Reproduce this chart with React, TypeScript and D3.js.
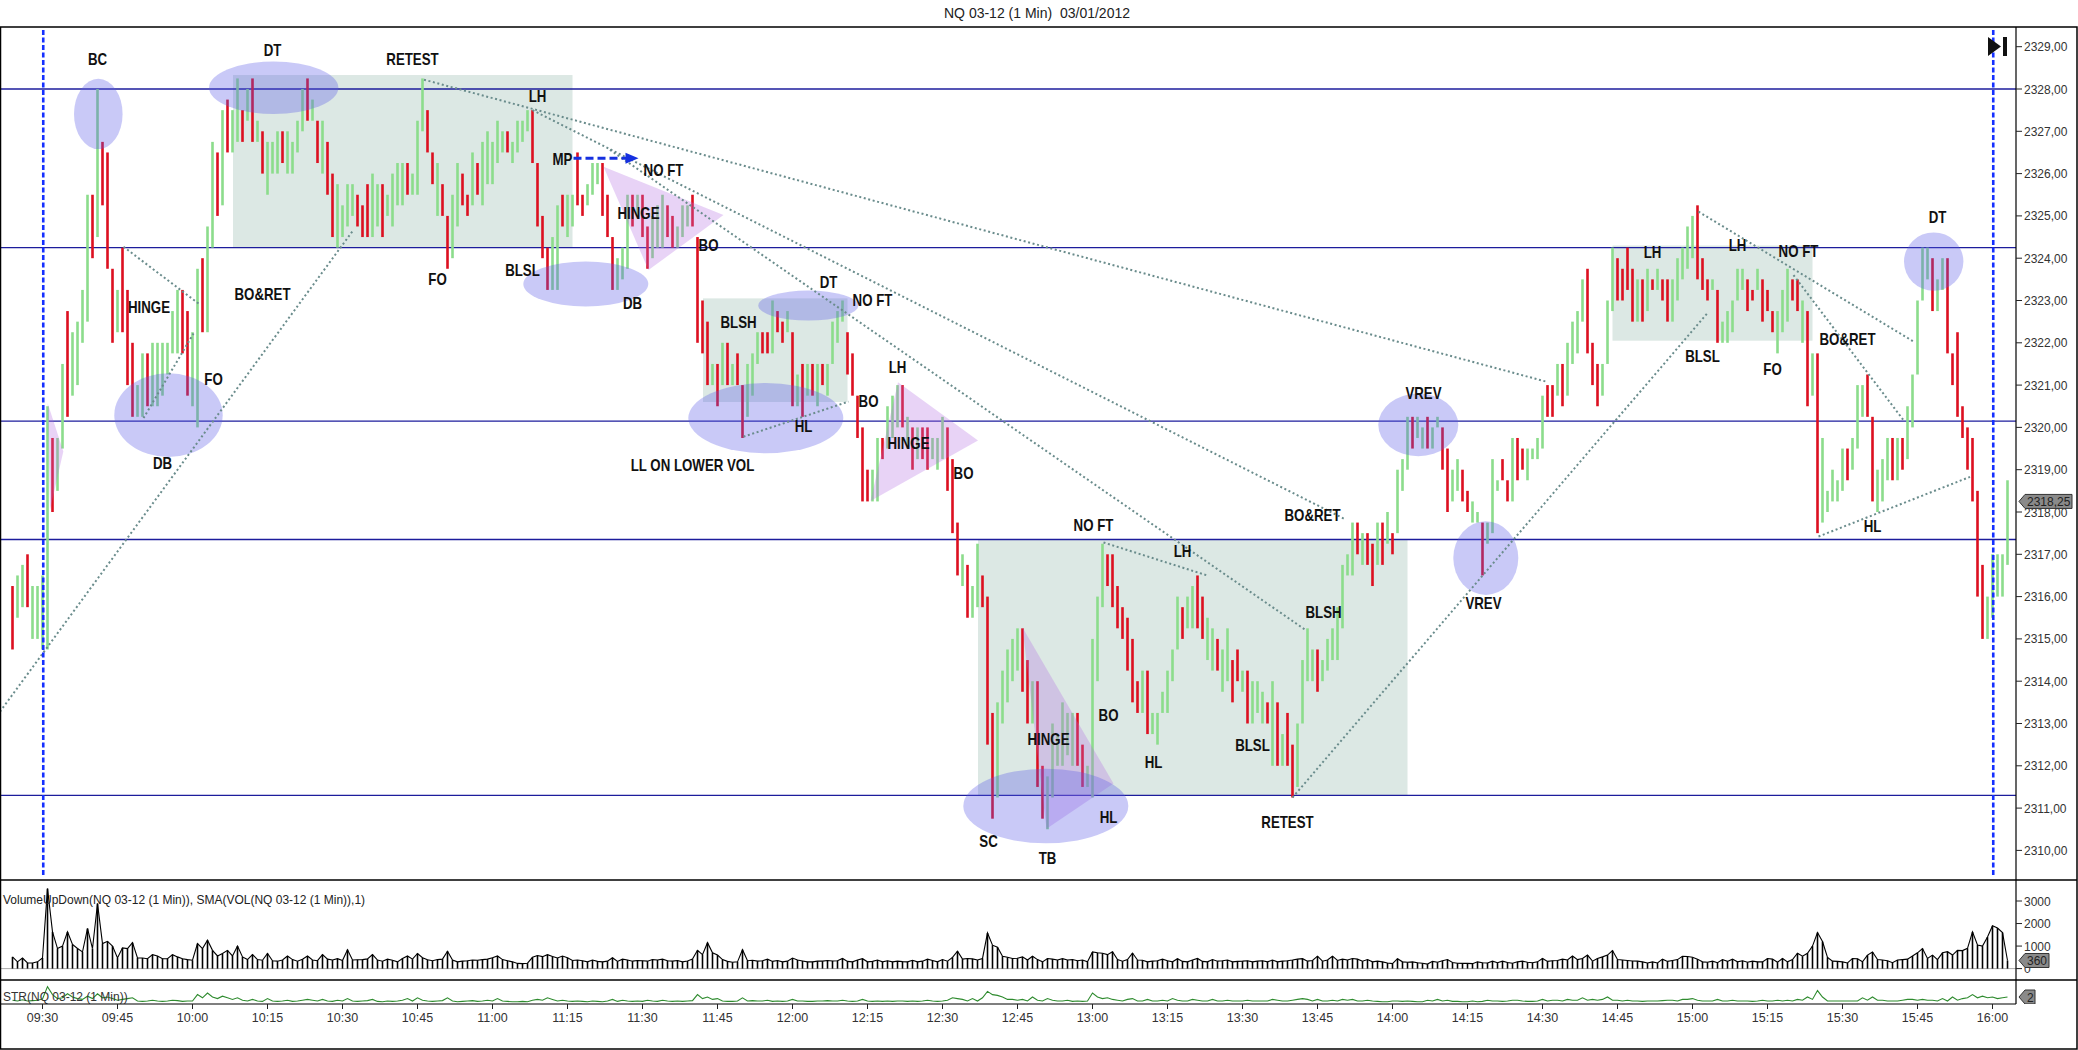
import React from "react";
import * as d3 from "d3";

// ---------- data ----------
const chartTitle = "NQ 03-12 (1 Min)  03/01/2012";
const firstMinute = -6; // first bar sits six minutes before the 09:30 open

const barHigh = [
  2316.25,2316.5,2316.75,2317,2316.25,2316.25,2316.5,2320.5,2319.75,2319.75,
  2321.5,2322.75,2322.25,2322.5,2323.25,2325.5,2325.5,2328,2326.75,2326.5,
  2323.75,2323.25,2324.25,2323.25,2322,2321,2321.75,2321.75,2322,2322,
  2322,2322,2322.75,2323.25,2323.25,2322.75,2322.25,2323.75,2324,2324.75,
  2326.75,2326.5,2327.5,2327.75,2327.5,2328.25,2327.5,2328,2328.25,2327.25,
  2327,2326.75,2326.75,2327,2327,2327,2326.75,2327.25,2328,2328.25,
  2327.75,2327.25,2327.25,2326.75,2326,2325.75,2325.25,2325.75,2325.75,2325.5,
  2325.25,2325.75,2326,2325.75,2325.75,2325.5,2326,2326.25,2326.25,2326.25,
  2326,2327.25,2328.25,2327.5,2326.5,2326.25,2325.75,2325,2325.5,2326.25,
  2326,2325.5,2326.5,2326.25,2326.75,2327,2326.75,2327.25,2327,2327,
  2326.75,2327.25,2327.25,2327.5,2327.5,2326.25,2325,2324.25,2324.5,2325.25,
  2325.5,2325.5,2325.5,2326.5,2325.5,2325.75,2326.25,2326.25,2326.25,2325.5,
  2324.5,2324,2324.25,2325.5,2325.5,2325.5,2325.5,2324.75,2325,2325.25,
  2325.5,2325.25,2325,2324.75,2325.25,2325.25,2325.5,2324.5,2323,2322.5,
  2321.5,2321.5,2322,2322,2321.5,2321.75,2321,2321.5,2321.75,2322.25,
  2322.25,2322.25,2323,2322.75,2322.5,2322.75,2322.25,2321.25,2321.5,2321.5,
  2321.5,2321.5,2321.5,2321.5,2322.5,2322.75,2323,2322.25,2321.75,2320.75,
  2320,2319,2319,2319.75,2319.75,2320.5,2320.75,2321,2321,2320.25,
  2320,2320,2320,2320,2319.75,2319.75,2320.25,2320,2319.25,2317.75,
  2317,2316.75,2316.25,2317.25,2316.5,2316,2313.25,2313.5,2314.25,2314.75,
  2315,2315.25,2315.25,2314.5,2314,2314,2312,2311.75,2313,2312.75,
  2313.5,2313.25,2313.25,2313.25,2312.5,2312,2315,2316,2317.25,2317,
  2317,2316.25,2315.75,2315.5,2315,2314,2314.25,2314.25,2313.25,2313.25,
  2313.75,2314.25,2314.75,2316,2315.75,2316,2316.25,2316.5,2316,2315.5,
  2315.25,2315,2314.75,2315.25,2314.5,2314.75,2314.25,2314.25,2314,2314,
  2313.75,2313.5,2314,2313.5,2312.75,2313.25,2312.5,2313,2314.5,2315.25,
  2314.75,2314.75,2314.5,2315,2315.25,2315.75,2316.75,2317,2317.75,2317.75,
  2317.5,2317.5,2317.25,2317.75,2317.75,2318,2317.5,2319,2319.25,2320.25,
  2320.25,2320.25,2320,2320.25,2320,2320.25,2320,2319.5,2319,2319.25,
  2319,2318.5,2318.25,2318,2317.75,2317.75,2319.25,2318.75,2319.25,2318.75,
  2319.75,2319.75,2319.5,2319.5,2319.5,2319.75,2320.75,2321,2321,2321.5,
  2321.5,2322,2322.5,2322.75,2323.5,2323.75,2322,2321.5,2321.5,2323,
  2324.25,2324,2323.75,2324.25,2323.75,2323.5,2323.5,2323.75,2323.5,2323.75,
  2323.5,2323.5,2323.5,2324,2324.25,2324.75,2325,2325.25,2324,2323.5,
  2323.5,2323.25,2322.5,2322.75,2323,2323.75,2323.75,2323.5,2323.25,2323.75,
  2323.5,2323.25,2322.75,2322.75,2323.25,2323.75,2323.5,2323.5,2323,2322.75,
  2321.75,2321.75,2319.75,2318.5,2319,2318.75,2319.5,2319.5,2319.75,2321,
  2321,2321.25,2320.25,2319,2319.25,2319.75,2319.75,2319.75,2319.75,2320.5,
  2321.25,2323,2324.25,2324.25,2324,2323.5,2324,2324,2321.75,2322.25,
  2320.5,2320,2319.75,2318.5,2316.75,2316,2317,2317,2317,2318.75,
];

const barLow = [
  2314.75,2315.5,2315.75,2315.75,2315,2315,2314.75,2314.75,2318,2318.5,
  2319.5,2320.25,2320.75,2321,2322,2322.5,2324,2324.5,2325.25,2323.75,
  2322,2322.25,2322.25,2321,2320.25,2320.25,2320.25,2320.5,2320.5,2320.5,
  2320.75,2321.25,2321.75,2321.75,2321.75,2320.75,2320.5,2320,2322.25,2322.25,
  2324.25,2325,2325.25,2326.5,2326.5,2326.75,2326.75,2327.25,2326.75,2326.75,
  2326,2325.5,2326,2326,2326.25,2326,2326,2326.5,2327,2327.25,
  2327.25,2326.25,2326,2325.5,2324.5,2324.25,2324.5,2324.75,2325,2324.75,
  2324.5,2324.5,2324.5,2324.75,2324.5,2325,2324.75,2325.25,2325.25,2325.5,
  2325.5,2325.5,2327,2326.5,2325.75,2325,2325,2323.75,2324,2324.75,
  2325.25,2325,2325.25,2325.5,2325.25,2325.75,2325.75,2326.25,2326.5,2326.5,
  2326.25,2326.5,2326.75,2327,2326.25,2324.75,2324,2323.25,2323.25,2323.25,
  2324.75,2324.5,2324.75,2325.25,2325,2325.25,2325.5,2325.75,2325,2324.5,
  2323.25,2323.25,2323.5,2323.75,2324.75,2325,2324.5,2323.75,2324,2324.25,
  2324.25,2324.5,2324.25,2324.25,2324.5,2324.75,2324.75,2322,2321.75,2321,
  2321,2320.5,2321,2321,2321,2321,2319.75,2320.25,2320.75,2321.5,
  2321.75,2321.75,2321.75,2322.25,2322,2322.25,2320.5,2320.5,2320.25,2320.75,
  2320.75,2320.5,2321,2320.75,2321.5,2322,2322.5,2321.25,2320.75,2319.75,
  2318.25,2318.25,2318.25,2318.25,2319.25,2319.5,2319.75,2320,2320,2319.5,
  2319,2319.25,2319.25,2319,2319.25,2319,2319.25,2318.5,2317.5,2316.5,
  2316.25,2315.5,2315.5,2315.75,2315.75,2312.5,2310.75,2311.25,2313,2313.5,
  2314,2314.25,2313.75,2313,2313,2311.5,2310.75,2310.5,2311.25,2312,
  2312,2312.25,2312,2312,2311.5,2311.5,2311.25,2314,2315.75,2316.25,
  2315.75,2315.25,2315,2314.25,2313.5,2313.25,2313.25,2312.75,2312.75,2312.5,
  2313.25,2313.25,2314,2314.75,2315,2315.25,2315.25,2315.25,2315,2314.5,
  2314.25,2314.25,2313.75,2314,2313.5,2314,2313.75,2313,2313,2313.25,
  2313,2313,2312,2312,2312,2312,2311.25,2311.5,2313,2314,
  2314,2313.75,2314,2314.25,2314.5,2314.5,2315.25,2316.5,2316.5,2317,
  2316.75,2316.75,2316.25,2316.75,2316.75,2317.25,2317,2317.5,2318.5,2319,
  2319.5,2319.75,2319.5,2319.5,2319.5,2320,2319,2318,2318.25,2318.5,
  2318.25,2318,2317.75,2317.75,2316.5,2317.25,2317.5,2318.5,2318.75,2318.25,
  2318.25,2318.75,2319,2318.75,2319.25,2319.25,2319.5,2320.25,2320.25,2320.75,
  2320.5,2320.75,2321.5,2321.75,2322.5,2321.75,2321,2320.5,2320.75,2321.5,
  2322.75,2323,2323,2323.25,2322.5,2322.5,2322.5,2322.75,2323.25,2323.25,
  2323,2322.5,2322.5,2323,2323.5,2323.75,2324,2323.5,2323.25,2323,
  2323.25,2322,2322,2322,2322.25,2323,2323.25,2322.75,2323,2323.25,
  2322.5,2322.75,2322.25,2321.75,2322.25,2322.5,2323,2322.75,2322,2320.5,
  2320.75,2317.5,2317.75,2318,2318.25,2318.25,2318.5,2318.75,2319,2319.5,
  2320.25,2320.25,2318.25,2318,2318.25,2318.75,2318.75,2318.75,2319,2319.25,
  2320,2321.25,2323,2323.5,2322.75,2322.75,2323.25,2321.75,2321,2320.25,
  2319.75,2319,2318.25,2316,2315,2315,2315.5,2316,2316,2316.75,
];

// G = up bar, R = down bar
const barDir = [
  "RGGRGGGGRG","GRGGGGRGRR","RGRRRGGRGG","GGGGRRGGRG","GRGRGGRGRG",
  "RGGGRGGGGR","GRGRRGGGGR","RRGGRGGGGR","GGGRRGRRGG","RRGRGGGGGR",
  "GGGGRRRRGG","RGGRRGGGRR","RGGGRGRRGG","GRRGGGRRRR","GRGRGRRGGG",
  "RRGRRGRGRG","RGRGGGGRRR","RRGGRGGGRG","RGRRGGGRRR","GRGGRRRGGG",
  "GGRRGRRGGG","GGGRRGGGGR","RRRRRRGRGG","GGGGRGGRRG","GRGGRRGRGG",
  "GRGRGRRGGG","GRGGGGGGGR","GRRGRGRGGG","RGGRGGRRGG","RRGGRGGGRR",
  "GRRGGGGRRG","RGGGGRRRGG","GRRRRGRGRG","RRGGGGGRRR","GRGGGGGRRG",
  "RRRGGGRRGR","GRGGGGGRGG","GRRGGGRGRG","GGGGRGGRRR","RRRRRGGGGG",
].join("").split("");

const volume = [
  520,300,470,250,250,300,470,
  3550,1630,890,1000,1630,1070,890,740,1780,890,
  2890,1110,1210,1000,470,920,890,1150,470,470,
  440,620,560,440,440,620,520,440,400,370,
  1110,890,1260,810,560,670,810,560,1000,520,
  400,620,400,370,670,
  350,330,380,560,400,330,420,560,380,350,
  620,420,380,440,360,840,380,390,400,430,
  620,380,330,420,370,300,450,560,420,670,
  480,390,350,400,420,770,380,300,330,350,
  380,370,400,420,480,560,400,350,300,230,
  220,240,500,580,530,620,540,470,560,480,
  360,380,350,300,380,320,300,330,480,320,
  420,380,330,360,350,330,400,380,420,350,
  330,360,300,340,420,810,
  620,1150,700,600,400,320,280,300,840,350,
  370,330,350,420,320,360,300,330,470,380,
  340,300,300,330,330,360,340,350,450,320,
  300,380,440,300,320,380,300,350,300,330,
  310,300,370,300,330,420,360,300,400,330,
  500,770,420,450,430,380,450,1580,1040,950,
  550,500,450,460,520,380,550,400,300,450,
  420,380,440,380,400,350,380,300,740,700,
  680,620,750,400,330,400,690,380,370,300,
  330,350,420,350,300,440,320,300,380,450,
  320,300,400,330,350,380,300,320,330,350,
  300,330,350,300,380,300,330,350,380,420,
  440,330,360,550,330,380,550,360,420,380,
  450,420,330,400,300,330,300,250,220,440,
  300,280,300,260,240,200,320,280,350,400,
  270,240,230,230,220,300,260,250,330,260,
  330,270,240,300,330,280,260,300,450,320,
  350,360,420,380,560,400,450,600,330,450,
  520,600,800,400,380,360,340,330,300,250,
  300,250,420,320,360,400,550,540,500,420,
  300,280,330,260,400,320,420,300,350,280,
  330,300,300,450,420,280,450,300,400,680,
  550,680,1000,1600,1200,500,330,320,300,250,
  450,440,300,600,740,400,380,350,260,380,
  400,420,560,700,890,450,600,400,700,750,
  600,810,800,900,1630,1050,1000,1400,1900,1800,1600,360,
];

const strength = [
  1.2,1.0,1.3,1.0,1.1,1.2,1.5,
  4.6,2.6,1.6,1.8,2.8,2.0,1.6,1.4,2.2,1.6,
  2.8,1.8,2.0,1.6,1.2,1.4,1.6,1.8,1.0,0.9,
  1.0,1.2,1.0,0.9,1.0,1.2,1.1,0.9,1.0,1.0,
  2.6,1.8,3.0,2.0,1.6,2.2,1.8,1.4,1.8,1.2,
  1.0,1.4,1.0,0.9,1.6,1.0,0.9,1.0,1.2,0.9,
  1.0,1.2,1.4,1.2,1.0,1.4,1.0,0.9,1.2,1.0,
  1.6,1.0,0.9,1.0,1.1,1.4,0.9,0.8,1.0,0.9,
  1.0,1.2,1.6,1.0,1.8,1.2,1.0,0.9,1.0,1.1,
  1.8,1.0,0.8,0.9,1.0,1.1,0.9,1.0,1.2,1.0,
  1.6,1.0,0.9,0.8,0.8,0.9,0.8,1.2,1.4,1.2,
  1.8,1.4,1.0,1.2,1.0,0.9,1.0,0.9,0.8,1.0,
  0.9,0.8,1.0,1.4,0.9,1.2,1.0,0.9,1.0,0.9,
  1.2,1.0,0.9,1.2,1.0,0.9,1.0,0.9,1.0,1.1,
  2.6,1.6,2.0,1.4,1.6,1.0,0.9,0.9,1.0,1.8,
  1.0,1.1,1.0,1.0,1.2,0.9,1.0,0.9,1.0,1.4,
  1.0,1.0,0.9,0.9,1.0,1.0,1.1,1.0,1.0,1.2,
  1.0,0.9,1.0,1.4,1.0,0.9,1.0,0.9,1.0,0.9,
  1.0,1.0,0.9,1.0,0.9,1.0,1.2,1.0,0.9,1.0,
  1.2,1.8,1.6,1.4,1.0,1.6,1.0,1.8,3.4,2.6,
  2.4,2.0,1.4,1.4,1.2,1.4,1.0,2.0,1.2,1.0,
  1.6,1.2,1.0,1.0,1.2,0.9,1.0,0.9,1.0,3.0,
  2.0,1.6,1.8,1.4,1.2,1.0,1.4,1.6,1.0,1.0,
  1.4,1.0,1.0,1.2,1.0,1.6,1.2,1.0,1.0,1.4,
  1.2,1.0,1.0,1.4,1.0,1.0,1.2,1.0,1.0,1.0,
  1.2,1.0,1.0,1.0,1.0,1.4,1.2,1.0,1.0,1.2,
  1.4,1.6,1.4,1.0,1.4,1.0,1.0,1.2,1.0,1.4,
  1.2,1.4,1.0,1.0,1.2,1.0,0.9,0.8,0.8,1.0,
  1.0,0.9,1.0,0.9,0.8,0.8,1.2,1.0,1.4,1.0,
  1.2,0.9,0.9,0.8,0.8,1.0,0.8,0.9,1.2,1.0,
  1.0,0.9,1.0,1.2,1.2,1.0,0.9,0.9,1.0,1.4,
  1.0,1.2,1.2,1.0,1.4,1.2,1.2,1.8,1.2,1.4,
  1.2,1.4,2.0,1.2,1.2,1.0,1.2,1.0,1.0,0.9,
  1.0,1.0,1.0,1.1,1.2,1.2,1.0,1.4,1.4,1.6,
  1.2,1.0,1.0,1.0,1.4,1.0,1.0,1.2,1.0,1.0,
  1.0,0.9,1.0,1.2,1.0,1.0,1.2,1.0,1.2,1.0,
  1.4,1.2,2.0,1.4,3.6,2.0,1.0,1.0,1.0,1.0,
  1.0,1.0,1.0,1.8,1.2,2.0,1.2,1.2,1.0,1.0,
  1.0,1.2,1.4,1.4,1.2,1.4,1.2,1.2,1.0,1.6,
  1.0,2.0,1.2,1.6,1.8,2.6,1.8,2.2,1.8,2.0,
  1.6,1.8,2.0,
];

const lastClose = 2318.25;

const priceTicks = [2310,2311,2312,2313,2314,2315,2316,2317,2318,2319,2320,2321,2322,2323,2324,2325,2326,2327,2328,2329];
const volumeTicks = [0, 1000, 2000, 3000];
const timeLabels = ["09:30","09:45","10:00","10:15","10:30","10:45","11:00","11:15","11:30","11:45","12:00","12:15","12:30","12:45","13:00","13:15","13:30","13:45","14:00","14:15","14:30","14:45","15:00","15:15","15:30","15:45","16:00"];

// support / resistance levels drawn across the whole session
const levelLines = [2328, 2324.25, 2320.15, 2317.35, 2311.3];
// session open / close markers (minutes from the open)
const sessionMarks = [0.15, 390.15];

// trading ranges: [fromMinute, toMinute, lowPrice, highPrice]
const rangeBoxes = [
  [38.1, 106.0, 2324.25, 2328.33],
  [132.1, 161.0, 2320.6, 2323.05],
  [187.1, 273.0, 2311.3, 2317.35],
  [314.0, 354.0, 2322.05, 2324.3],
];

// highlighted turning points: [minute, price, halfWidthMinutes, halfHeightPoints]
const highlights = [
  [11.16, 2327.41, 4.86, 0.83],
  [46.24, 2328.03, 12.94, 0.62],
  [25.2, 2320.29, 10.84, 0.99],
  [108.66, 2323.39, 12.5, 0.53],
  [153.16, 2322.88, 10.0, 0.355],
  [144.66, 2320.22, 15.5, 0.83],
  [200.66, 2311.05, 16.5, 0.88],
  [275.16, 2320.06, 8.0, 0.74],
  [288.66, 2316.91, 6.5, 0.87],
  [378.24, 2323.92, 5.94, 0.69],
];

// converging hinge wedges: three [minute, price] corners each
const hinges = [
  [[112.2, 2326.16], [136.2, 2325.02], [121.2, 2323.72]],
  [[171.1, 2321.07], [187.1, 2319.69], [165.6, 2318.26]],
  [[196.0, 2315.27], [214.2, 2311.58], [200.8, 2310.51]],
  [[1.04, 2320.57], [4.16, 2319.43], [1.5, 2318.05]],
];

// dotted trend lines: [minute1, price1, minute2, price2]
const trendLines = [
  [-8.5, 2313.28, 62.2, 2324.67],
  [16.2, 2324.27, 31.2, 2322.93],
  [20.2, 2320.22, 30.2, 2322.22],
  [76.3, 2328.22, 300.8, 2321.08],
  [98.0, 2327.5, 260.5, 2317.83],
  [113.5, 2326.56, 252.5, 2315.22],
  [212.2, 2317.28, 233.2, 2316.49],
  [250.0, 2311.25, 333.2, 2322.73],
  [331.2, 2325.1, 374.2, 2322.03],
  [350.2, 2323.6, 372.2, 2320.17],
  [355.2, 2317.42, 385.5, 2318.83],
  [140.2, 2319.78, 161.2, 2320.61],
];

// measured-move arrow
const mpArrow = { from: 106.2, to: 119.2, price: 2326.36 };

// annotation labels: [text, minute, price]
const notes: [string, number, number][] = [
  ["BC", 11.0, 2328.7], ["DT", 46.0, 2328.9], ["RETEST", 74.0, 2328.69],
  ["LH", 99.0, 2327.82], ["MP", 104.0, 2326.34], ["NO FT", 124.2, 2326.07],
  ["HINGE", 119.2, 2325.06], ["BO", 133.2, 2324.29], ["FO", 79.0, 2323.5],
  ["BLSL", 96.0, 2323.7], ["DB", 118.0, 2322.92], ["HINGE", 21.3, 2322.83],
  ["BO&RET", 44.0, 2323.15], ["FO", 34.2, 2321.14], ["DB", 24.0, 2319.15],
  ["BLSH", 139.2, 2322.48], ["DT", 157.2, 2323.42], ["NO FT", 166.0, 2323.01],
  ["HL", 152.2, 2320.02], ["LL ON LOWER VOL", 130.0, 2319.09], ["BO", 165.2, 2320.61],
  ["LH", 171.0, 2321.42], ["HINGE", 173.2, 2319.61], ["BO", 184.2, 2318.91],
  ["NO FT", 210.2, 2317.67], ["LH", 228.0, 2317.07], ["BO&RET", 254.0, 2317.91],
  ["BLSH", 256.2, 2315.62], ["BO", 213.2, 2313.19], ["HINGE", 201.2, 2312.63],
  ["HL", 222.2, 2312.08], ["BLSL", 242.0, 2312.47], ["HL", 213.2, 2310.78],
  ["SC", 189.2, 2310.21], ["TB", 201.0, 2309.8], ["RETEST", 249.0, 2310.67],
  ["VREV", 276.2, 2320.81], ["VREV", 288.2, 2315.83], ["LH", 322.0, 2324.13],
  ["LH", 339.0, 2324.29], ["NO FT", 351.2, 2324.15], ["BLSL", 332.0, 2321.67],
  ["FO", 346.0, 2321.36], ["BO&RET", 361.0, 2322.07], ["HL", 366.0, 2317.65],
  ["DT", 379.0, 2324.96],
];

// ---------- layout ----------
const W = 2078;
const H = 1050;
const axisX = 2016;
const mainTop = 27;
const mainBottom = 880;
const volBottom = 980;
const indBottom = 1004;
const frameBottom = 1049;
const frameRight = 2077;
const FONT = "Liberation Sans, Arial, Helvetica, sans-serif";

const GREEN = "#8cdc8c";
const RED = "#dc1020";

const fmtPrice = (p: number) => p.toFixed(2).replace(".", ",");

export default function App() {
  const x = d3.scaleLinear().domain([0, 390]).range([42.5, 1992.5]);
  const y = d3.scaleLinear().domain([2310, 2328]).range([850.4, 89]);
  const yv = d3.scaleLinear().domain([0, 3000]).range([968.6, 901]);
  const yi = d3.scaleLinear().domain([0, 2]).range([1005, 997]);

  const n = Math.min(barHigh.length, barLow.length, barDir.length);
  const bars = d3.range(n).map((i) => ({
    t: i + firstMinute,
    hi: barHigh[i],
    lo: barLow[i],
    up: barDir[i] === "G",
  }));

  const volPts = volume.map((v, i) => [x(i + firstMinute), yv(v)] as [number, number]);
  const volLine = d3.line()(volPts) || "";
  const strPts = strength.map((v, i) => [x(i + firstMinute), yi(v)] as [number, number]);
  const strLine = d3.line().curve(d3.curveLinear)(strPts) || "";

  const lastVol = volume[volume.length - 1];
  const lastStr = strength[strength.length - 1];

  const tag = (yc: number, w: number) =>
    `M${axisX + 3},${yc} L${axisX + 9},${yc - 7} L${axisX + 9 + w},${yc - 7} L${axisX + 9 + w},${yc + 7} L${axisX + 9},${yc + 7} Z`;

  const arrowY = y(mpArrow.price);
  const arrowX1 = x(mpArrow.to);

  return (
    <svg
      width={W}
      height={H}
      viewBox={`0 0 ${W} ${H}`}
      style={{ position: "absolute", left: 0, top: 0, display: "block", background: "#fff" }}
      fontFamily={FONT}
    >
      <defs>
        <clipPath id="mainClip">
          <rect x={0} y={mainTop} width={axisX} height={mainBottom - mainTop} />
        </clipPath>
        <clipPath id="volClip">
          <rect x={0} y={mainBottom} width={axisX} height={volBottom - mainBottom} />
        </clipPath>
        <clipPath id="indClip">
          <rect x={0} y={volBottom} width={axisX} height={indBottom - volBottom} />
        </clipPath>
        <clipPath id="indAxisClip">
          <rect x={axisX} y={volBottom} width={frameRight - axisX} height={indBottom - volBottom} />
        </clipPath>
      </defs>

      <rect x={0} y={0} width={W} height={H} fill="#fff" />

      {/* title */}
      <text x={1037} y={18} textAnchor="middle" fontSize={14} fill="#222" style={{ whiteSpace: "pre" }}>
        {chartTitle}
      </text>

      {/* ---------- price panel ---------- */}
      <g clipPath="url(#mainClip)">
        {rangeBoxes.map(([t0, t1, p0, p1], i) => (
          <rect key={`box${i}`} x={x(t0)} y={y(p1)} width={x(t1) - x(t0)} height={y(p0) - y(p1)} fill="#dce8e4" />
        ))}

        {levelLines.map((p, i) => (
          <line key={`lvl${i}`} x1={0} x2={axisX} y1={y(p)} y2={y(p)} stroke="#1c1c9c" strokeWidth={1.3} />
        ))}

        {bars.map((b, i) => {
          const top = y(b.hi);
          const h = Math.max(1.5, y(b.lo) - top);
          return (
            <rect key={`bar${i}`} x={x(b.t) - 1.3} y={top} width={2.6} height={h} fill={b.up ? GREEN : RED} />
          );
        })}

        {hinges.map((pts, i) => (
          <polygon
            key={`hinge${i}`}
            points={pts.map(([t, p]) => `${x(t)},${y(p)}`).join(" ")}
            fill="#b46ee0"
            fillOpacity={0.3}
          />
        ))}

        {highlights.map(([t, p, rt, rp], i) => (
          <ellipse
            key={`hl${i}`}
            cx={x(t)}
            cy={y(p)}
            rx={x(t + rt) - x(t)}
            ry={y(p - rp) - y(p)}
            fill="#5a5ae6"
            fillOpacity={0.33}
          />
        ))}

        {trendLines.map(([t0, p0, t1, p1], i) => (
          <line
            key={`tl${i}`}
            x1={x(t0)}
            y1={y(p0)}
            x2={x(t1)}
            y2={y(p1)}
            stroke="#6a8c8c"
            strokeWidth={2}
            strokeDasharray="2 2.6"
          />
        ))}

        {sessionMarks.map((t, i) => (
          <line
            key={`sess${i}`}
            x1={x(t)}
            x2={x(t)}
            y1={30}
            y2={875}
            stroke="#1530ff"
            strokeWidth={2.6}
            strokeDasharray="5 2.5"
          />
        ))}

        {/* measured move arrow */}
        <line
          x1={x(mpArrow.from)}
          x2={arrowX1 - 10}
          y1={arrowY}
          y2={arrowY}
          stroke="#1530e0"
          strokeWidth={3}
          strokeDasharray="8 4"
        />
        <polygon
          points={`${arrowX1},${arrowY} ${arrowX1 - 13},${arrowY - 5.5} ${arrowX1 - 13},${arrowY + 5.5}`}
          fill="#1530e0"
        />

        {notes.map(([txt, t, p], i) => (
          <text
            key={`note${i}`}
            transform={`translate(${x(t)},${y(p)}) scale(0.83,1)`}
            textAnchor="middle"
            dominantBaseline="central"
            fontSize={16}
            fontWeight="bold"
            fill="#111"
          >
            {txt}
          </text>
        ))}

        {/* go-to-end marker */}
        <polygon points="1988,37 1988,56 2001,46.5" fill="#111" />
        <rect x={2003} y={37} width={4} height={19} fill="#111" />
      </g>

      {/* ---------- volume panel ---------- */}
      <g clipPath="url(#volClip)">
        <line x1={0} x2={axisX} y1={yv(0)} y2={yv(0)} stroke="#aaa" strokeWidth={1} />
        {volume.map((v, i) => (
          <line
            key={`v${i}`}
            x1={x(i + firstMinute)}
            x2={x(i + firstMinute)}
            y1={yv(0)}
            y2={yv(v)}
            stroke="#000"
            strokeWidth={1.6}
          />
        ))}
        <path d={volLine} fill="none" stroke="#000" strokeWidth={1.1} />
        <text x={3} y={904} fontSize={12} fill="#222">
          VolumeUpDown(NQ 03-12 (1 Min)), SMA(VOL(NQ 03-12 (1 Min)),1)
        </text>
      </g>

      {/* ---------- indicator panel ---------- */}
      <g clipPath="url(#indClip)">
        <path d={strLine} fill="none" stroke="#2e8b2e" strokeWidth={1.1} />
        <text x={3} y={1001} fontSize={12} fill="#333">
          STR(NQ 03-12 (1 Min))
        </text>
      </g>

      {/* ---------- frame ---------- */}
      <rect x={0.5} y={mainTop} width={frameRight - 0.5} height={frameBottom - mainTop} fill="none" stroke="#000" strokeWidth={1.5} />
      <line x1={0} x2={frameRight} y1={mainBottom} y2={mainBottom} stroke="#000" strokeWidth={1.5} />
      <line x1={0} x2={frameRight} y1={volBottom} y2={volBottom} stroke="#000" strokeWidth={1.5} />
      <line x1={0} x2={axisX} y1={indBottom} y2={indBottom} stroke="#000" strokeWidth={1.2} />
      <line x1={axisX} x2={axisX} y1={mainTop} y2={indBottom} stroke="#000" strokeWidth={1.2} />

      {/* price axis */}
      {priceTicks.map((p) => (
        <g key={`pt${p}`}>
          <line x1={axisX} x2={axisX + 6} y1={y(p)} y2={y(p)} stroke="#222" />
          <text x={axisX + 8} y={y(p) + 4.5} fontSize={12} fill="#333">
            {fmtPrice(p)}
          </text>
        </g>
      ))}
      <path d={tag(y(lastClose), 47)} fill="#8a8a8a" stroke="#333" strokeWidth={1} />
      <text x={axisX + 11} y={y(lastClose) + 4.5} fontSize={12} fill="#222">
        {fmtPrice(lastClose)}
      </text>

      {/* volume axis */}
      {volumeTicks.map((v) => (
        <g key={`vt${v}`}>
          <line x1={axisX} x2={axisX + 6} y1={yv(v)} y2={yv(v)} stroke="#222" />
          <text x={axisX + 8} y={yv(v) + 4.5} fontSize={12} fill="#333">
            {v}
          </text>
        </g>
      ))}
      <path d={tag(yv(lastVol), 24)} fill="#8a8a8a" stroke="#333" strokeWidth={1} />
      <text x={axisX + 11} y={yv(lastVol) + 4.5} fontSize={12} fill="#222">
        {lastVol}
      </text>

      {/* indicator axis */}
      <g clipPath="url(#indAxisClip)">
        <text x={axisX + 8} y={yi(0) + 4.5} fontSize={12} fill="#333">0</text>
        <path d={tag(yi(lastStr), 10)} fill="#8a8a8a" stroke="#333" strokeWidth={1} />
        <text x={axisX + 11} y={yi(lastStr) + 4.5} fontSize={12} fill="#222">
          {lastStr}
        </text>
      </g>

      {/* time axis */}
      {timeLabels.map((lab, k) => {
        const xx = x(k * 15);
        return (
          <g key={`tt${k}`}>
            <line x1={xx} x2={xx} y1={indBottom} y2={indBottom + 5} stroke="#222" />
            <text x={xx} y={1022} textAnchor="middle" fontSize={12.5} fill="#333">
              {lab}
            </text>
          </g>
        );
      })}
    </svg>
  );
}
